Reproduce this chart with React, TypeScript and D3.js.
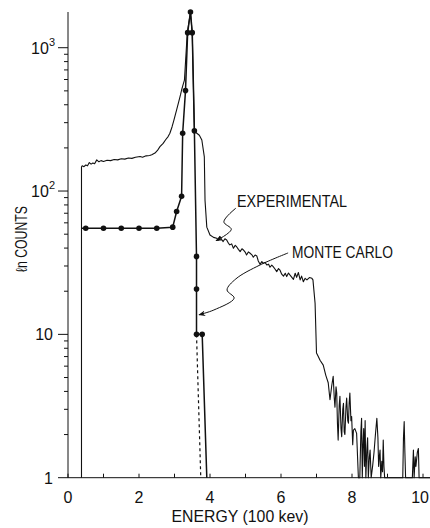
import React from 'react';
import * as d3 from 'd3';

// ---- data ----
const xTickValues = [0, 1, 2, 3, 4, 5, 6, 7, 8, 9, 10];
const xTickLabels = ['0', '2', '4', '6', '8', '10'];
const yMajorTicks = [1, 10, 100, 1000];
const yMajorBase = ['1', '10', '10', '10'];
const yMajorExp = ['', '', '2', '3'];

// Experimental spectrum [energy (100 keV), counts]
const experimental: [number, number][] = [
  [0.38, 1], [0.38, 147], [0.4, 150], [0.45, 148], [0.5, 152], [0.55, 150], [0.6, 158], [0.65, 154],
  [0.7, 157], [0.75, 155], [0.81, 165], [0.87, 160], [0.93, 163], [1.0, 161], [1.1, 164], [1.2, 163],
  [1.3, 166], [1.4, 165], [1.5, 168], [1.6, 167], [1.7, 170], [1.8, 169], [1.9, 172], [2.03, 174],
  [2.1, 172], [2.2, 176], [2.3, 177], [2.36, 179], [2.45, 184], [2.52, 192], [2.59, 204], [2.68, 215],
  [2.75, 228], [2.82, 240], [2.87, 253], [2.93, 280], [2.98, 310], [3.03, 345], [3.06, 368], [3.12, 420],
  [3.17, 470], [3.2, 507], [3.24, 550], [3.28, 595], [3.36, 1270], [3.45, 1775], [3.5, 1250], [3.56, 263],
  [3.62, 254], [3.7, 245], [3.77, 227], [3.84, 173], [3.86, 86], [3.91, 56], [4.0, 49.4], [4.1, 47.5],
  [4.19, 46.9], [4.23, 45.3], [4.28, 48.1], [4.33, 45.9], [4.37, 44.4], [4.42, 46.5], [4.47, 45.6], [4.52, 43.2],
  [4.56, 42.1], [4.61, 42.8], [4.66, 39.9], [4.71, 41.8], [4.75, 40.9], [4.8, 39.2], [4.85, 37.8], [4.9, 39.6],
  [4.94, 38.8], [4.99, 37.5], [5.03, 35.8], [5.08, 37.6], [5.13, 36.8], [5.18, 35.9], [5.22, 34.5], [5.27, 35.8],
  [5.32, 35.2], [5.36, 32.5], [5.41, 30.8], [5.46, 32.2], [5.5, 31.3], [5.55, 31.8], [5.6, 30.5], [5.65, 30.9],
  [5.69, 29.4], [5.74, 30.4], [5.78, 29.7], [5.83, 28.6], [5.88, 27.4], [5.93, 28.8], [5.97, 28.1], [6.02, 26.3],
  [6.07, 25.5], [6.12, 26.7], [6.16, 25.3], [6.21, 26.8], [6.25, 26.0], [6.3, 25.1], [6.35, 24.2], [6.4, 26.7],
  [6.44, 25.0], [6.49, 27.0], [6.54, 24.0], [6.58, 25.5], [6.63, 23.3], [6.68, 24.6], [6.73, 24.0], [6.8, 24.9],
  [6.87, 24.6], [6.9, 24.0], [6.96, 16.5], [7.0, 7.4], [7.05, 7.0], [7.1, 6.6], [7.19, 6.1], [7.26, 5.2],
  [7.33, 4.6], [7.38, 3.5], [7.43, 4.4], [7.47, 5.1], [7.5, 3.6], [7.52, 3.1], [7.55, 4.3], [7.57, 3.9],
  [7.59, 2.4], [7.61, 1.83], [7.64, 3.2], [7.66, 3.7], [7.69, 2.2], [7.71, 1.93], [7.74, 3.0], [7.76, 3.3],
  [7.78, 2.1], [7.8, 2.0], [7.83, 3.1], [7.85, 3.6], [7.88, 2.5], [7.9, 2.4], [7.92, 3.3], [7.94, 3.9],
  [7.97, 2.5], [7.99, 2.67], [8.02, 1.7], [8.04, 2.15], [8.08, 2.2], [8.13, 2.04], [8.18, 1], [8.22, 1],
  [8.25, 2.1], [8.27, 2.6], [8.29, 1], [8.31, 1.7], [8.33, 2.2], [8.35, 1.2], [8.37, 2.5], [8.39, 1],
  [8.42, 1.6], [8.44, 1.9], [8.46, 1], [8.49, 1.4], [8.51, 1.56], [8.54, 1], [8.58, 1.2], [8.62, 1.5],
  [8.66, 2.0], [8.7, 2.6], [8.73, 1.9], [8.75, 1.2], [8.77, 1.4], [8.79, 1.56], [8.81, 1], [8.84, 1.3],
  [8.86, 1.1], [8.88, 1.83], [8.9, 1.2], [8.92, 1], [9.43, 1], [9.45, 1.9], [9.47, 2.46], [9.49, 1.5],
  [9.51, 1], [9.7, 1], [9.73, 1.56], [9.75, 1], [9.78, 1.4], [9.8, 1.2], [9.84, 1.5], [9.87, 1.6],
  [9.89, 1], [10.2, 1],
];

// Monte Carlo simulation [energy, counts]
const monteCarlo: [number, number][] = [
  [0.38, 55], [0.5, 55], [1.0, 55], [1.5, 55], [2.0, 55], [2.5, 55], [2.95, 56], [3.06, 72],
  [3.2, 92], [3.23, 253], [3.31, 502], [3.37, 1274], [3.45, 1775], [3.5, 1274], [3.56, 263],
  [3.62, 35], [3.62, 20.7], [3.62, 10], [3.78, 10], [3.91, 1],
];
const monteCarloDashed: [number, number][] = [[3.62, 10], [3.74, 1]];

// annotation pointers in data space
const expPointer: [number, number][] = [[4.73, 76], [4.39, 61], [4.6, 54], [4.17, 45]];
const mcPointer: [number, number][] = [[6.2, 37], [5.41, 30.5], [4.73, 24.4], [4.48, 20.4], [4.68, 17.9], [4.11, 14.8], [3.69, 13.7]];

const W = 430;
const H = 528;

export default function App() {
  const x = d3.scaleLinear().domain([0, 10]).range([68, 423]);
  const y = d3.scaleLog().domain([1, 1775]).range([477.7, 12]);

  const line = d3.line<[number, number]>().x(d => x(d[0])).y(d => y(d[1]));
  const curved = d3.line<[number, number]>().x(d => x(d[0])).y(d => y(d[1])).curve(d3.curveCatmullRom.alpha(0.5));

  const minor: number[] = [];
  [1, 10, 100, 1000].forEach(dec => {
    for (let k = 2; k <= 9; k++) {
      const v = dec * k;
      if (v < 1775) minor.push(v);
    }
  });

  const font = "'Liberation Sans', Arial, sans-serif";
  const ink = '#111';

  return (
    <svg width={W} height={H} style={{ position: 'absolute', left: 0, top: 0, background: '#fff' }}>
      <defs>
        <marker id="ah" viewBox="0 0 10 10" refX="9" refY="5" markerWidth="7" markerHeight="7" orient="auto-start-reverse" markerUnits="userSpaceOnUse">
          <path d="M0,1 L10,5 L0,9 L3,5 Z" fill={ink} />
        </marker>
      </defs>

      {/* axes */}
      <line x1={x(0)} x2={W} y1={y(1)} y2={y(1)} stroke={ink} strokeWidth={1} />
      <line x1={x(0)} x2={x(0)} y1={y(1)} y2={12} stroke={ink} strokeWidth={1} />

      {xTickValues.map(t => (
        <line key={'xt' + t} x1={x(t)} x2={x(t)} y1={y(1)} y2={y(1) - 4} stroke={ink} strokeWidth={1} />
      ))}
      {xTickLabels.map((lab, i) => (
        i === xTickLabels.length - 1
          ? <text key={'xl' + i} x={429} y={503} textAnchor="end" fontFamily={font} fontSize={16} fill={ink}>{lab}</text>
          : <text key={'xl' + i} x={x(i * 2)} y={503} textAnchor="middle" fontFamily={font} fontSize={16} fill={ink}>{lab}</text>
      ))}

      {yMajorTicks.map(t => (
        <line key={'ym' + t} x1={x(0) - 10} x2={x(0)} y1={y(t)} y2={y(t)} stroke={ink} strokeWidth={1} />
      ))}
      {minor.map(t => (
        <line key={'yn' + t} x1={x(0) - 4} x2={x(0)} y1={y(t)} y2={y(t)} stroke={ink} strokeWidth={1} />
      ))}
      {yMajorTicks.map((t, i) => (
        <text key={'yl' + t} x={yMajorExp[i] ? 55 : 53} y={y(t) + 6} textAnchor="end" fontFamily={font} fontSize={16} fill={ink}>
          {yMajorBase[i]}
          {yMajorExp[i] ? <tspan dy={-8} fontSize={11}>{yMajorExp[i]}</tspan> : null}
        </text>
      ))}

      {/* axis titles */}
      <text x={240} y={522} textAnchor="middle" fontFamily={font} fontSize={16} fill={ink} textLength={137} lengthAdjust="spacingAndGlyphs">ENERGY (100 kev)</text>
      <text transform="translate(27,239) rotate(-90)" textAnchor="middle" fontFamily={font} fontSize={16} fill={ink} textLength={66} lengthAdjust="spacingAndGlyphs">ℓn COUNTS</text>

      {/* series */}
      <path d={line(experimental) || ''} fill="none" stroke={ink} strokeWidth={1.1} strokeLinejoin="round" />
      <path d={line(monteCarlo) || ''} fill="none" stroke={ink} strokeWidth={1.5} strokeLinejoin="round" />
      <path d={line(monteCarloDashed) || ''} fill="none" stroke={ink} strokeWidth={1.2} strokeDasharray="3,3" />
      {monteCarlo.slice(1, -1).map((d, i) => (
        <circle key={'mc' + i} cx={x(d[0])} cy={y(d[1])} r={2.8} fill={ink} />
      ))}

      {/* annotations */}
      <path d={curved(expPointer) || ''} fill="none" stroke={ink} strokeWidth={1} markerEnd="url(#ah)" />
      <path d={curved(mcPointer) || ''} fill="none" stroke={ink} strokeWidth={1} markerEnd="url(#ah)" />
      <text x={237} y={207} fontFamily={font} fontSize={17} fill={ink} textLength={110} lengthAdjust="spacingAndGlyphs">EXPERIMENTAL</text>
      <text x={292} y={258} fontFamily={font} fontSize={17} fill={ink} textLength={101} lengthAdjust="spacingAndGlyphs">MONTE CARLO</text>
    </svg>
  );
}
